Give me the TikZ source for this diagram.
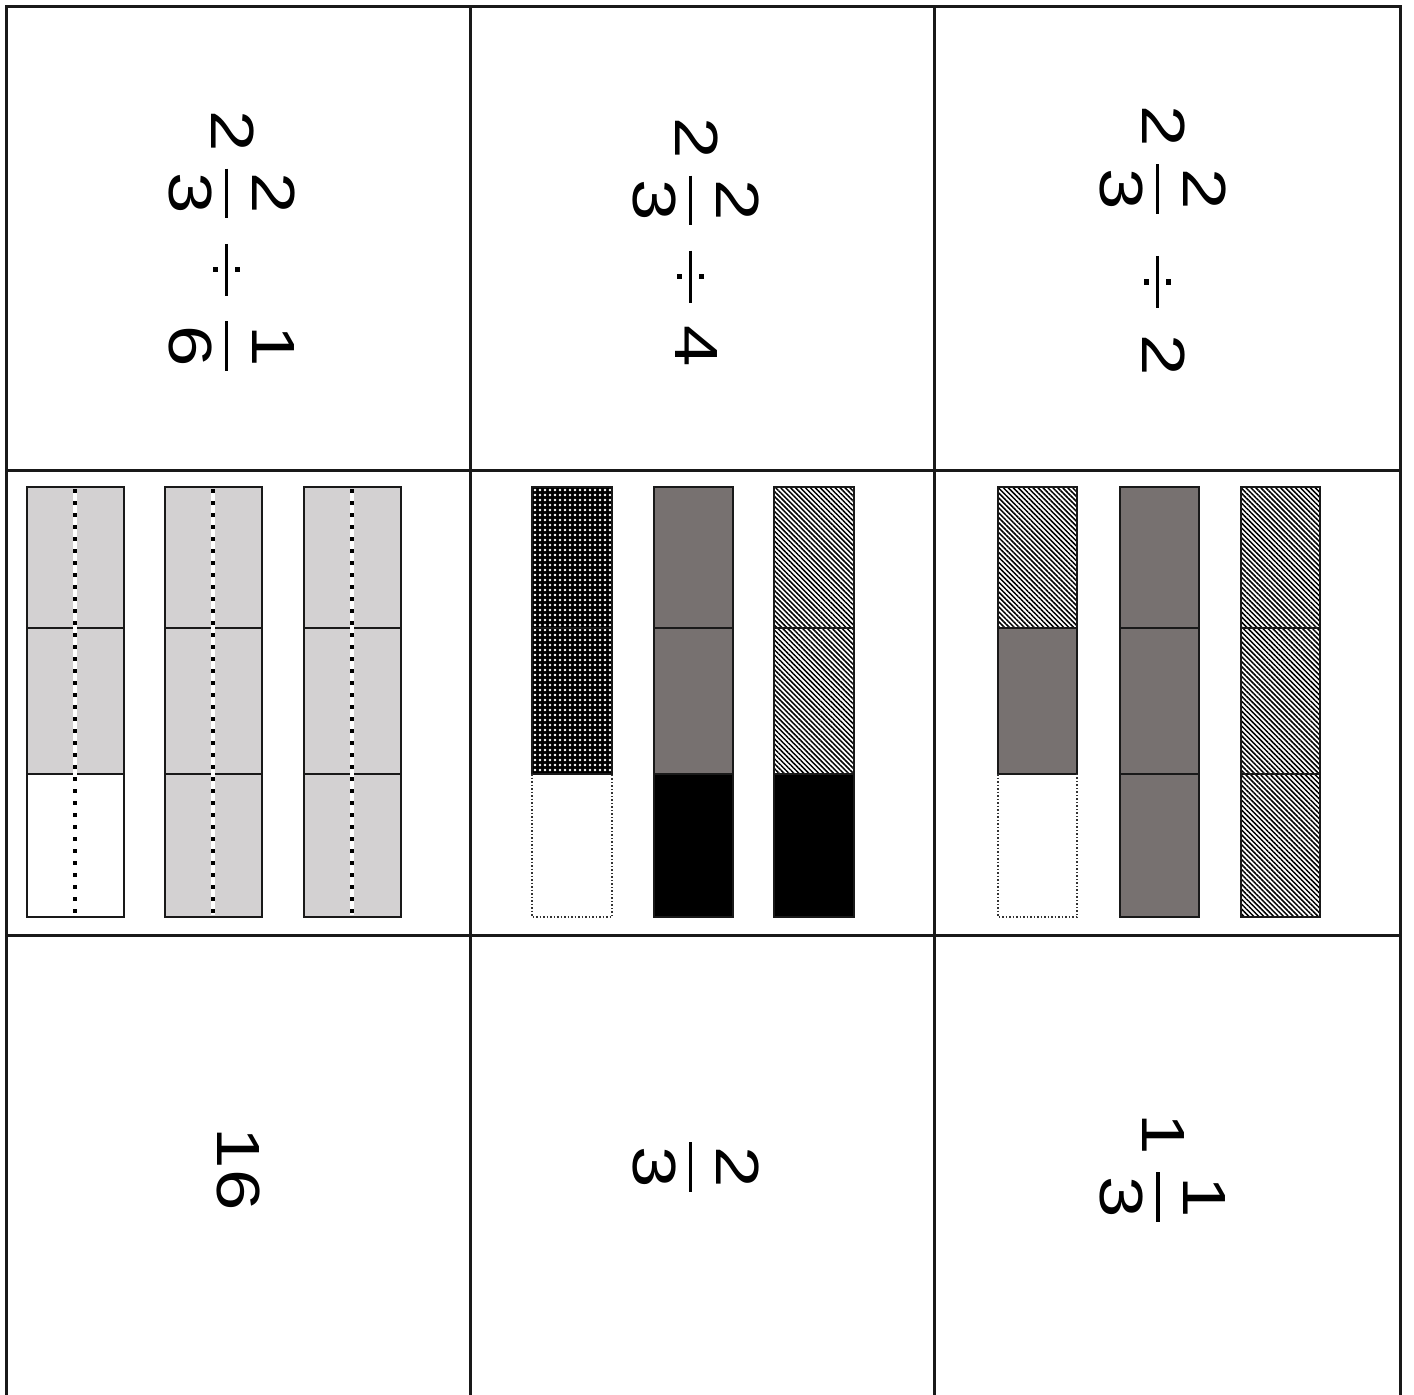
\documentclass[tikz,border=0pt]{standalone}
\usepackage{amsmath}
\usepackage{fontspec}
\setmainfont{Liberation Sans}
\usetikzlibrary{patterns.meta}
\definecolor{lightgrey}{RGB}{211,209,210}
\definecolor{darkgrey}{RGB}{119,113,112}
\newcommand{\mfrac}[2]{\genfrac{}{}{0.55pt}{0}{\mkern1mu\text{#1}\mkern1mu}{\mkern1mu\text{#2}\mkern1mu}}
\newcommand{\dv}{\mathbin{\vcenter{\hbox{\rlap{\raisebox{-0.25pt}{\rule{7pt}{0.5pt}}}%
  \hbox to 7pt{\hss\rlap{\raisebox{1.45pt}{\rule{0.7pt}{0.75pt}}}\raisebox{-2.2pt}{\rule{0.7pt}{0.75pt}}\hss}}}}}
\newcommand{\wide}[1]{\scalebox{7.44}[6.1]{#1}}

\begin{document}
\begin{tikzpicture}[x=1pt, y=-1pt,
  grid line/.style={line width=3pt, black!90},
  cell/.style={draw=black!90, line width=2.4pt},
  light/.style={cell, fill=lightgrey},
  dark/.style={cell, fill=darkgrey},
  hatch/.style={cell, pattern={Lines[angle=-45, distance=3.5pt, line width=1.5pt]}},
  speckle/.style={cell, preaction={fill=black}, pattern={Dots[distance=5pt, radius=1.4pt]}, pattern color=white},
  dotted cell/.style={draw=black!80, line width=1.5pt, dash pattern=on 1.5pt off 2pt},
  card text/.style={rotate=-90, inner sep=0pt, font=\fontsize{10}{12}\selectfont}]
  \useasboundingbox (0,0) rectangle (1414,1395);
  % card grid
  \draw[grid line] (6,1395) -- (6,6) -- (1400,6) -- (1400,1395);
  \draw[grid line] (470,6) -- (470,1395);
  \draw[grid line] (934,6) -- (934,1395);
  \draw[grid line] (6,470) -- (1400,470);
  \draw[grid line] (6,935) -- (1400,935);
  % questions
  \node[card text] (q1) at (232,245) {\wide{$\text{2}\mkern2mu\mfrac{2}{3}\dv\mfrac{1}{6}$}};
  \node[card text] (q2) at (696,242) {\wide{$\text{2}\mkern2mu\mfrac{2}{3}\dv\mkern1.5mu\text{4}$}};
  \node[card text] (q3) at (1163,241) {\wide{$\text{2}\mkern2mu\mfrac{2}{3}\mkern4mu\dv\mkern2.5mu\text{2}$}};
  % bars for 1/6
  \foreach \x in {27,165,304}
    \foreach \y/\z in {487/628,628/774,774/917}
      \draw[light] (\x,\y) rectangle (\x+97,\z);
  \draw[cell, fill=white] (27,774) rectangle (124,917);
  \foreach \x in {75,213,352} {
    \draw[white, line width=3.5pt] (\x,489) -- (\x,915);
    \draw[line width=3.5pt, dash pattern=on 4pt off 8pt] (\x,489) -- (\x,915);
  }
  % bars for 4 groups
  \draw[speckle] (532,487) rectangle (612,628);
  \draw[speckle] (532,628) rectangle (612,774);
  \draw[dotted cell] (532,774) -- (532,917) -- (612,917) -- (612,774);
  \draw[dark] (654,487) rectangle (733,628);
  \draw[dark] (654,628) rectangle (733,774);
  \draw[cell, fill=black] (654,774) rectangle (733,917);
  \draw[hatch] (774,487) rectangle (854,628);
  \draw[hatch] (774,628) rectangle (854,774);
  \draw[cell, fill=black] (774,774) rectangle (854,917);
  % bars for 2 groups
  \draw[hatch] (998,487) rectangle (1077,628);
  \draw[dark] (998,628) rectangle (1077,774);
  \draw[dotted cell] (998,774) -- (998,917) -- (1077,917) -- (1077,774);
  \foreach \y/\z in {487/628,628/774,774/917} {
    \draw[dark] (1120,\y) rectangle (1199,\z);
    \draw[hatch] (1241,\y) rectangle (1320,\z);
  }
  % answers
  \node[card text] (a1) at (238,1169) {\wide{16}};
  \node[card text] (a2) at (696,1167) {\wide{$\mfrac{2}{3}$}};
  \node[card text] (a3) at (1163,1172) {\wide{$\text{1}\mkern2mu\mfrac{1}{3}$}};
\end{tikzpicture}
\end{document}
